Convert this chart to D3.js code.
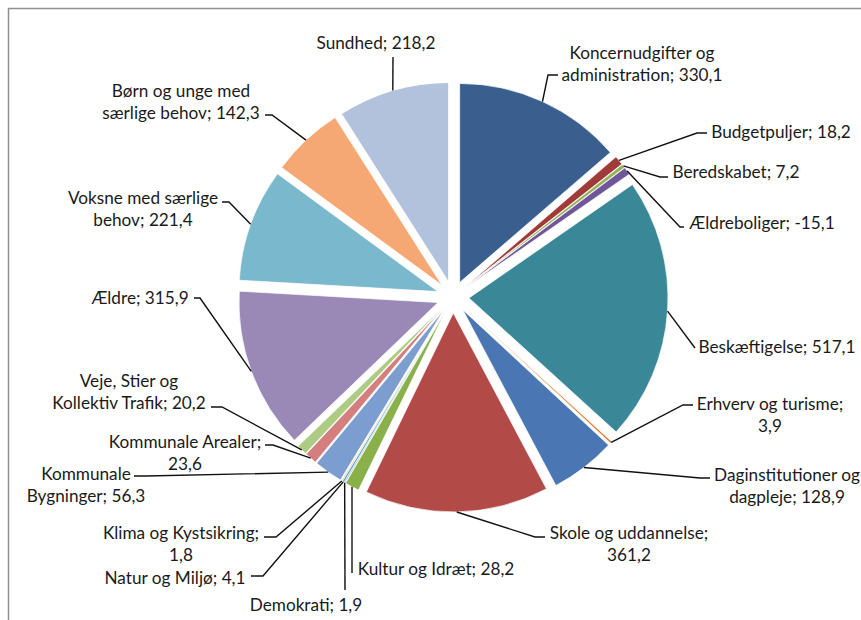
<!DOCTYPE html>
<html>
<head>
<meta charset="utf-8">
<script src="https://cdn.jsdelivr.net/npm/d3@7"></script>
<style>
  html, body { margin: 0; padding: 0; background: #fff; }
  svg { display: block; }
  .lbl { font-family: Lato, "Open Sans", sans-serif; font-size: 17.2px; fill: #1a1a1a; }
</style>
</head>
<body>
<svg id="chart" width="861" height="620"></svg>
<script>
// Budget areas (mio. kr.) — slices run clockwise from 12 o'clock
const categories = [
  "Koncernudgifter og administration", "Budgetpuljer", "Beredskabet", "Ældreboliger",
  "Beskæftigelse", "Erhverv og turisme", "Daginstitutioner og dagpleje", "Skole og uddannelse",
  "Kultur og Idræt", "Demokrati", "Natur og Miljø", "Klima og Kystsikring",
  "Kommunale Bygninger", "Kommunale Arealer", "Veje, Stier og Kollektiv Trafik",
  "Ældre", "Voksne med særlige behov", "Børn og unge med særlige behov", "Sundhed"
];
const values = [
  330.1, 18.2, 7.2, -15.1,
  517.1, 3.9, 128.9, 361.2,
  28.2, 1.9, 4.1, 1.8,
  56.3, 23.6, 20.2,
  315.9, 221.4, 142.3, 218.2
];
const colors = [
  "#3A5F8F", "#A03B39", "#93B356", "#6F569A",
  "#3A8798", "#E07B2A", "#4A76B4", "#B24A48",
  "#8AB04A", "#8064A2", "#4BACC6", "#F79646",
  "#7C9DD0", "#D47F7E", "#ADCC83",
  "#9A88B6", "#79B8CD", "#F6A874", "#B2C2DD"
];

// Label placement: text centre x, first-line centre y, word count of first line,
// and leader elbow / end points.
const labelLayout = [
  { x: 642, y: 52,  brk: 2, elbow: [548, 75],  end: [558, 75] },
  { x: 781, y: 131, brk: 0, elbow: [697, 133], end: [707, 133] },
  { x: 736, y: 171, brk: 0, elbow: [660, 177], end: [668, 177] },
  { x: 762, y: 222, brk: 0, elbow: [680, 227], end: [684, 227] },
  { x: 777, y: 346, brk: 0, elbow: [695, 348], end: [695, 348] },
  { x: 770, y: 403, brk: 3, elbow: [683, 405], end: [693, 405] },
  { x: 787, y: 474, brk: 2, elbow: [700, 478], end: [710, 478] },
  { x: 629, y: 532, brk: 3, elbow: [535, 537], end: [545, 537] },
  { x: 436, y: 568, brk: 0, elbow: [352, 573], end: [352, 573] },
  { x: 306, y: 604, brk: 0, elbow: [345, 590], end: [345, 590] },
  { x: 175, y: 577, brk: 0, elbow: [263, 576], end: [251, 576] },
  { x: 181, y: 532, brk: 3, elbow: [276, 537], end: [264, 537] },
  { x: 86,  y: 473, brk: 1, elbow: [146, 476], end: [134, 476] },
  { x: 185, y: 441, brk: 2, elbow: [273, 445], end: [265, 445] },
  { x: 129, y: 380, brk: 3, elbow: [222, 407], end: [211, 407] },
  { x: 140, y: 297, brk: 0, elbow: [200, 298], end: [194, 298] },
  { x: 143, y: 197, brk: 3, elbow: [229, 202], end: [222, 202] },
  { x: 181, y: 90,  brk: 4, elbow: [272, 115], end: [265, 115] },
  { x: 376, y: 42,  brk: 0, elbow: [393, 57],  end: [393, 57] }
];

const svg = d3.select("#chart");
const cx = 453, cy = 297, radius = 199, explode = 16, lineGap = 21.5;

// Chart-area frame
svg.append("rect")
  .attr("x", 8.5).attr("y", 8.5).attr("width", 900).attr("height", 700)
  .attr("fill", "none").attr("stroke", "#8f8f8f").attr("stroke-width", 1.5);

const data = categories.map((c, i) => ({ name: c, value: values[i], color: colors[i], layout: labelLayout[i] }));

// Negative amounts are drawn by their magnitude
const pie = d3.pie().value(d => Math.abs(d.value)).sort(null);
const arcs = pie(data);
const arc = d3.arc().innerRadius(0).outerRadius(radius);

const g = svg.append("g").attr("transform", `translate(${cx},${cy})`);

g.selectAll("path.slice")
  .data(arcs)
  .join("path")
  .attr("class", "slice")
  .attr("d", arc)
  .attr("fill", d => d.data.color)
  .attr("stroke", "#fff")
  .attr("stroke-width", 0.7)
  .attr("transform", d => {
    const [ox, oy] = d3.pointRadial((d.startAngle + d.endAngle) / 2, explode);
    return `translate(${ox},${oy})`;
  });

const fmt = v => v.toFixed(1).replace(".", ",");

// Leader lines from each slice's outer edge to its label
svg.selectAll("path.leader")
  .data(arcs)
  .join("path")
  .attr("class", "leader")
  .attr("fill", "none")
  .attr("stroke", "#111")
  .attr("stroke-width", 1.4)
  .attr("d", d => {
    const mid = (d.startAngle + d.endAngle) / 2;
    const [sx, sy] = d3.pointRadial(mid, radius + explode);
    const L = d.data.layout;
    return d3.line()([[cx + sx, cy + sy], L.elbow, L.end]);
  });

// Data labels: "name; value", wrapped onto two lines where set
svg.selectAll("text.lbl")
  .data(arcs)
  .join("text")
  .attr("class", "lbl")
  .attr("text-anchor", "middle")
  .attr("dominant-baseline", "central")
  .each(function(d) {
    const L = d.data.layout;
    const words = (d.data.name + "; " + fmt(d.data.value)).split(" ");
    const lines = L.brk > 0 ? [words.slice(0, L.brk).join(" "), words.slice(L.brk).join(" ")] : [words.join(" ")];
    d3.select(this).selectAll("tspan")
      .data(lines)
      .join("tspan")
      .attr("x", L.x)
      .attr("y", (t, i) => L.y + i * lineGap)
      .text(t => t);
  });
</script>
</body>
</html>
